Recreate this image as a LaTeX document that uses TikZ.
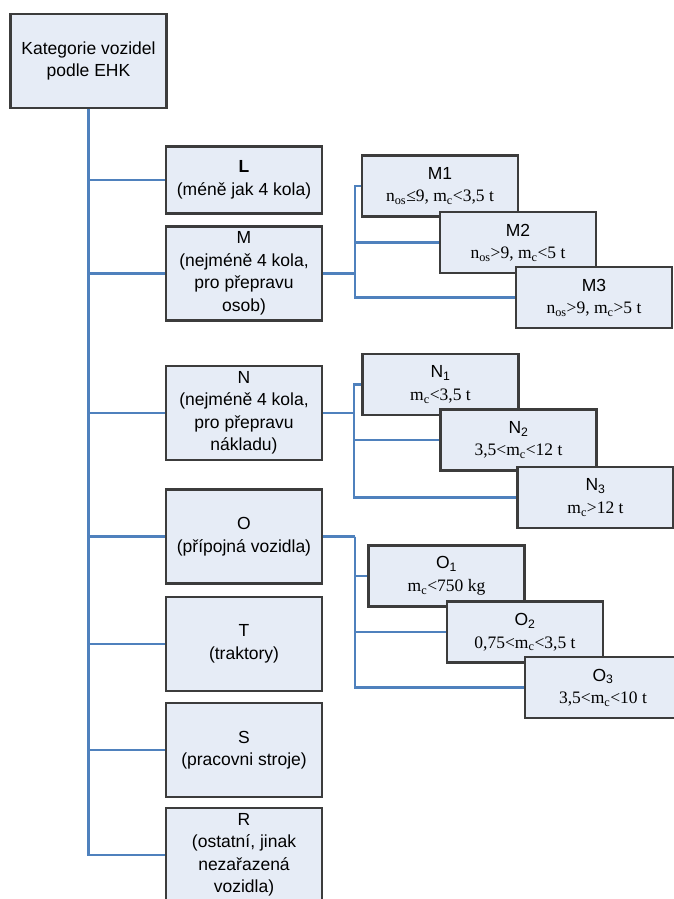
\documentclass[tikz,border=0pt]{standalone}
\usepackage{fontspec}
\setmainfont{Liberation Serif}
\setsansfont{Liberation Sans}
\usepackage{tikz}

\definecolor{boxfill}{HTML}{E6ECF6}
\definecolor{boxline}{HTML}{3C3C3C}
\definecolor{linkblue}{HTML}{4F81BD}

\begin{document}
\begin{tikzpicture}[x=1pt, y=-1pt,
  catbox/.style={draw=boxline, fill=boxfill, line width=2.4pt, minimum width=156pt, minimum height=94pt, align=center, inner sep=2pt, font=\sffamily\fontsize{17.5}{22.5}\selectfont},
  subbox/.style={draw=boxline, fill=boxfill, line width=2.4pt, minimum width=156pt, minimum height=61pt, align=center, inner sep=2pt, font=\fontsize{17.5}{22.5}\selectfont},
  link/.style={draw=linkblue, line width=2.2pt}]
\useasboundingbox (0,0) rectangle (673,899);

\node[catbox] (root) at (88.5,61) {Kategorie vozidel\\podle EHK};
\node[catbox, minimum height=67pt] (L) at (244,180) {\textbf{L}\\(méně jak 4 kola)};
\node[catbox] (M) at (244,273.5) {M\\(nejméně 4 kola,\\pro přepravu\\osob)};
\node[catbox] (N) at (244,413) {N\\(nejméně 4 kola,\\pro přepravu\\nákladu)};
\node[catbox] (O) at (244,536.5) {O\\(přípojná vozidla)};
\node[catbox] (T) at (244,644) {T\\(traktory)};
\node[catbox] (S) at (244,750) {S\\(pracovni stroje)};
\node[catbox] (R) at (244,855) {R\\(ostatní, jinak\\nezařazená\\vozidla)};

\node[subbox] (M1) at (440,186) {{\sffamily M1}\\n\textsubscript{os}≤9, m\textsubscript{c}<3,5 t};
\node[subbox] (M2) at (518,242.5) {{\sffamily M2}\\n\textsubscript{os}>9, m\textsubscript{c}<5 t};
\node[subbox] (M3) at (594,297.5) {{\sffamily M3}\\n\textsubscript{os}>9, m\textsubscript{c}>5 t};

\node[subbox] (N1) at (440.5,384.5) {{\sffamily N\textsubscript{1}}\\m\textsubscript{c}<3,5 t};
\node[subbox] (N2) at (518.5,440) {{\sffamily N\textsubscript{2}}\\3,5<m\textsubscript{c}<12 t};
\node[subbox] (N3) at (595.5,497.5) {{\sffamily N\textsubscript{3}}\\m\textsubscript{c}>12 t};

\node[subbox] (O1) at (446.5,576) {{\sffamily O\textsubscript{1}}\\m\textsubscript{c}<750 kg};
\node[subbox] (O2) at (525,632) {{\sffamily O\textsubscript{2}}\\0,75<m\textsubscript{c}<3,5 t};
\node[subbox] (O3) at (603,687.5) {{\sffamily O\textsubscript{3}}\\3,5<m\textsubscript{c}<10 t};

\draw[link] (root.south) |- (L.west);
\draw[link] (root.south) |- (M.west);
\draw[link] (root.south) |- (N.west);
\draw[link] (root.south) |- (O.west);
\draw[link] (root.south) |- (T.west);
\draw[link] (root.south) |- (S.west);
\draw[link] (root.south) |- (R.west);

\coordinate (mbus) at ([xshift=32pt]M.east);
\draw[link] (M.east) -- (mbus);
\draw[link] (mbus) |- (M1.west);
\draw[link] (mbus) |- (M2.west);
\draw[link] (mbus) |- (M3.west);

\coordinate (nbus) at ([xshift=31pt]N.east);
\draw[link] (N.east) -- (nbus);
\draw[link] (nbus) |- (N1.west);
\draw[link] (nbus) |- (N2.west);
\draw[link] (nbus) |- (N3.west);

\coordinate (obus) at ([xshift=32pt]O.east);
\draw[link] (O.east) -- (obus);
\draw[link] (obus) |- (O1.west);
\draw[link] (obus) |- (O2.west);
\draw[link] (obus) |- (O3.west);
\end{tikzpicture}
\end{document}
